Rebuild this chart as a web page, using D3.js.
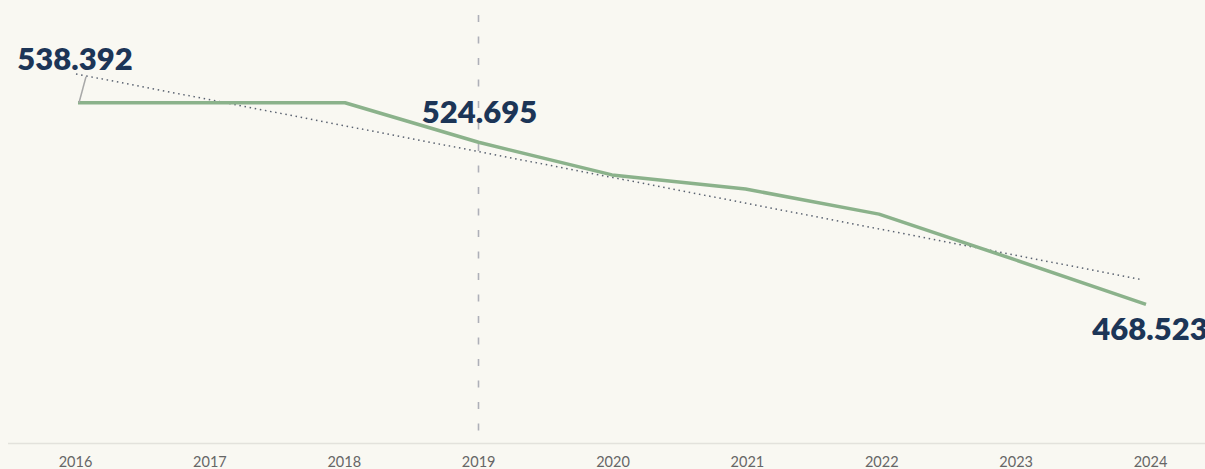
<!DOCTYPE html>
<html>
<head>
<meta charset="utf-8">
<script src="https://cdn.jsdelivr.net/npm/d3@7"></script>
<style>
  html, body { margin: 0; padding: 0; background: #f9f8f2; }
  svg { display: block; }
  .tick text { font-family: Lato, "Open Sans", sans-serif; }
</style>
</head>
<body>
<div id="main"></div>
<script>
var years = [2016, 2017, 2018, 2019, 2020, 2021, 2022, 2023, 2024];
var values = [538.392, 538.392, 538.392, 524.695, 513.4, 508.5, 499.8, 484.3, 468.523];
var tickLabels = ["2016", "2017", "2018", "2019", "2020", "2021", "2022", "2023", "2024"];
var markYear = 2019;

// which points get a value label, and where it sits
var labelled = [
  { year: 2016, pos: "above-leader" },
  { year: 2019, pos: "above" },
  { year: 2024, pos: "below" }
];

var width = 1205;
var height = 469;

var x = d3.scaleLinear()
  .domain([2016, 2024])
  .range([78, 1146]);

// tick labels sit on a slightly wider spread than the points
var xTicks = d3.scaleLinear()
  .domain([2016, 2024])
  .range([75, 1150]);

var y = d3.scaleLinear()
  .domain([420.5, 574])
  .range([443, 0]);

var svg = d3.select("#main").append("svg")
  .attr("width", width)
  .attr("height", height);

svg.append("rect")
  .attr("width", width)
  .attr("height", height)
  .attr("fill", "#f9f8f2");

var data = years.map(function(d, i) {
  return { year: d, value: values[i] };
});

// axis line
svg.append("line")
  .attr("x1", 8)
  .attr("x2", width)
  .attr("y1", 443.5)
  .attr("y2", 443.5)
  .attr("stroke", "#e3e2dc")
  .attr("stroke-width", 1.5);

// x axis labels
var xAxis = d3.axisBottom(xTicks)
  .tickValues(years)
  .tickFormat(function(d, i) { return tickLabels[i]; })
  .tickSize(0)
  .tickPadding(14);

var axisG = svg.append("g")
  .attr("transform", "translate(0,443)")
  .call(xAxis);
axisG.select(".domain").remove();
axisG.selectAll("text")
  .attr("fill", "#666")
  .attr("font-size", 14.5)
  .attr("dy", "0.71em");

// vertical marker
svg.append("line")
  .attr("x1", x(markYear))
  .attr("x2", x(markYear))
  .attr("y1", 15)
  .attr("y2", 443)
  .attr("stroke", "#aeb0b8")
  .attr("stroke-width", 1.6)
  .attr("stroke-dasharray", "7,14.5");

// trend line (least squares on the values)
var mx = d3.mean(data, function(d) { return d.year; });
var my = d3.mean(data, function(d) { return d.value; });
var sxy = d3.sum(data, function(d) { return (d.year - mx) * (d.value - my); });
var sxx = d3.sum(data, function(d) { return (d.year - mx) * (d.year - mx); });
var slope = sxy / sxx;
var intercept = my - slope * mx;

svg.append("line")
  .attr("x1", x(2016) - 2)
  .attr("x2", x(2024) - 3)
  .attr("y1", y(intercept + slope * 2016))
  .attr("y2", y(intercept + slope * 2024))
  .attr("stroke", "#5a6270")
  .attr("stroke-width", 1.5)
  .attr("stroke-dasharray", "1.5,3.7");

// main line
var line = d3.line()
  .x(function(d) { return x(d.year); })
  .y(function(d) { return y(d.value); });

svg.append("path")
  .datum(data)
  .attr("d", line)
  .attr("fill", "none")
  .attr("stroke", "#8bb28b")
  .attr("stroke-width", 3.5)
  .attr("stroke-linejoin", "round");

// value labels
var fmt = d3.format(".3f");

labelled.forEach(function(l) {
  var d = data[years.indexOf(l.year)];
  var px = x(d.year), py = y(d.value);
  var ty, dx = 1;
  if (l.pos == "above-leader") {
    svg.append("line")
      .attr("x1", px + 1)
      .attr("y1", py)
      .attr("x2", px + 8)
      .attr("y2", py - 26)
      .attr("stroke", "#a8a8a8")
      .attr("stroke-width", 1.5);
    ty = py - 33;
    dx = -3;
  } else if (l.pos == "above") {
    ty = py - 19;
  } else {
    ty = py + 36;
    dx = 4;
  }
  svg.append("text")
    .attr("x", px + dx)
    .attr("y", ty)
    .attr("text-anchor", "middle")
    .attr("font-family", "Lato, 'Open Sans', sans-serif")
    .attr("font-weight", 800)
    .attr("font-size", 31)
    .attr("fill", "#1c3557")
    .text(fmt(d.value));
});
</script>
</body>
</html>
